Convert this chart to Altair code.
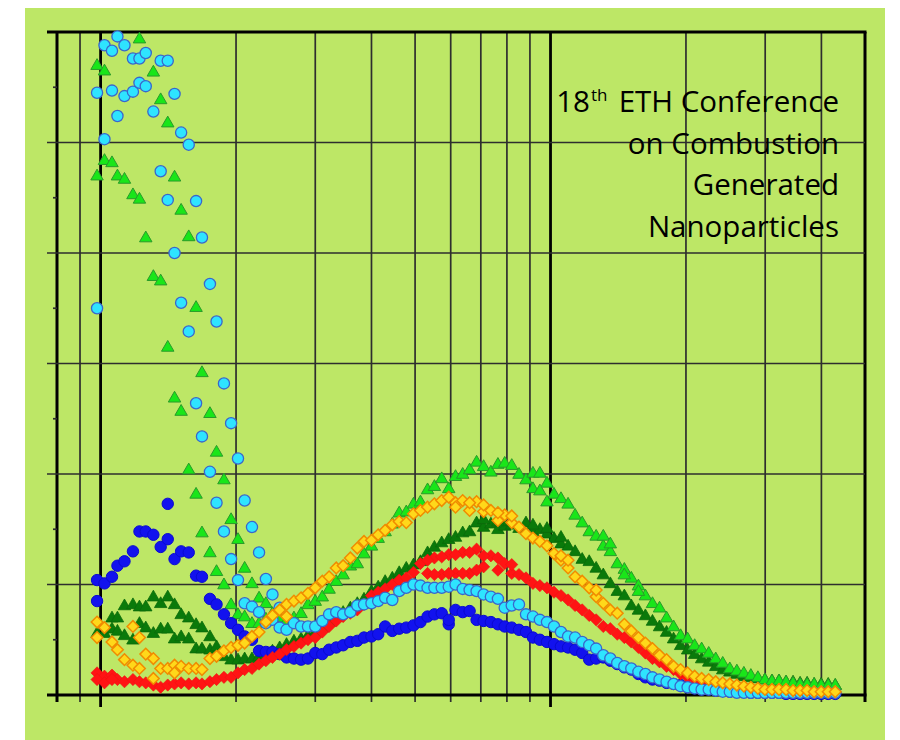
import altair as alt
import pandas as pd

# ---------------- data ----------------
# particle diameter channels (nm), 64 channels per decade
diam = [9.82, 10.2, 10.6, 10.9, 11.3, 11.8, 12.2, 12.6, 13.1, 13.6,
        14.1, 14.6, 15.1, 15.7, 16.3, 16.8, 17.5, 18.1, 18.8, 19.5,
        20.2, 20.9, 21.7, 22.5, 23.3, 24.1, 25.0, 25.9, 26.9, 27.9,
        28.9, 30.0, 31.1, 32.2, 33.4, 34.6, 35.9, 37.2, 38.5, 40.0,
        41.4, 42.9, 44.5, 46.1, 47.8, 49.6, 51.4, 53.3, 55.2, 57.3,
        59.4, 61.5, 63.8, 66.1, 68.5, 71.0, 73.7, 76.4, 79.1, 82.0,
        85.1, 88.2, 91.4, 94.7, 98.2, 101.8, 105.5, 109.4, 113.4, 117.6,
        121.9, 126.3, 131.0, 135.8, 140.7, 145.9, 151.2, 156.8, 162.5, 168.5,
        174.7, 181.1, 187.7, 194.6, 201.7, 209.1, 216.7, 224.7, 232.9, 241.4,
        250.3, 259.5, 269.0, 278.8, 289.0, 299.6, 310.6, 322.0, 333.8, 346.0,
        358.7, 371.8, 385.4, 399.5, 414.2, 429.4]

blue = [1.04, 1.01, 1.07, 1.17, 1.21, 1.30, 1.48, 1.48, 1.45, 1.34,
        1.41, 1.23, 1.30, 1.29, 1.08, 1.07, 0.87, 0.82, 0.73, 0.65,
        0.59, 0.53, 0.50, 0.40, 0.39, 0.39, 0.37, 0.34, 0.33, 0.32,
        0.33, 0.38, 0.37, 0.41, 0.43, 0.45, 0.48, 0.49, 0.52, 0.53,
        0.55, 0.62, 0.58, 0.60, 0.61, 0.63, 0.66, 0.71, 0.73, 0.74,
        0.64, 0.77, 0.75, 0.76, 0.68, 0.67, 0.66, 0.64, 0.62, 0.61,
        0.59, 0.57, 0.52, 0.50, 0.48, 0.46, 0.44, 0.43, 0.41, 0.38,
        0.32, 0.33, 0.34, 0.31, 0.28, 0.25, 0.23, 0.19, 0.16, 0.14,
        0.13, 0.11, 0.10, 0.09, 0.07, 0.06, 0.05, 0.05, 0.04, 0.04,
        0.03, 0.03, 0.03, 0.02, 0.02, 0.02, 0.02, 0.02, 0.01, 0.01,
        0.01, 0.01, 0.01, 0.01, 0.01, 0.01]
blue_extra_idx = [0, 10, 50]
blue_extra_val = [0.85, 1.73, 0.68]

cyan = [3.50, 5.03, 5.47, 5.24, 5.42, 5.46, 5.54, 5.51, 5.28, 4.74,
        4.48, 4.00, 3.55, 3.29, 2.64, 2.34, 2.02, 1.74, 1.48, 1.23,
        1.04, 0.83, 0.80, 0.75, 0.65, 0.68, 0.61, 0.59, 0.65, 0.62,
        0.62, 0.62, 0.67, 0.73, 0.75, 0.73, 0.75, 0.81, 0.82, 0.83,
        0.85, 0.88, 0.86, 0.94, 0.97, 1.00, 0.99, 0.97, 0.97, 0.97,
        0.98, 1.00, 0.96, 0.95, 0.94, 0.91, 0.89, 0.87, 0.79, 0.81,
        0.82, 0.73, 0.71, 0.68, 0.66, 0.62, 0.57, 0.53, 0.52, 0.48,
        0.45, 0.42, 0.36, 0.33, 0.29, 0.26, 0.24, 0.21, 0.19, 0.16,
        0.14, 0.12, 0.10, 0.08, 0.07, 0.06, 0.05, 0.05, 0.04, 0.03,
        0.03, 0.02, 0.02, 0.02, 0.02, 0.02, 0.02, 0.02, 0.02, 0.02,
        0.02, 0.02, 0.02, 0.02, 0.02, 0.02]
cyan_extra_idx = [0, 1, 2, 3, 4, 5, 6, 7, 9, 10, 11, 12, 13, 14, 15, 16, 17,
                  18, 19, 20, 21, 22, 23, 24, 25, 26]
cyan_extra_val = [5.45, 5.88, 5.83, 5.96, 5.88, 5.76, 5.76, 5.81, 5.74, 5.74,
                  5.44, 5.09, 4.98, 4.47, 4.14, 3.72, 3.38, 2.82, 2.46, 2.14,
                  1.76, 1.52, 1.29, 1.05, 0.91, 0.79]

ltgreen = [4.71, 4.85, 4.83, 4.71, 4.68, 4.54, 4.50, 4.15, 3.80, 3.76,
           3.16, 2.70, 2.58, 2.05, 1.83, 1.48, 1.30, 1.13, 1.01, 0.83,
           0.74, 0.72, 0.66, 0.66, 0.70, 0.75, 0.71, 0.68, 0.71, 0.75,
           0.83, 0.86, 0.90, 0.97, 1.04, 1.10, 1.18, 1.20, 1.29, 1.36,
           1.43, 1.49, 1.56, 1.66, 1.67, 1.74, 1.76, 1.87, 1.90, 1.97,
           1.88, 1.99, 2.01, 2.05, 2.12, 2.08, 2.03, 2.10, 2.11, 2.09,
           2.01, 1.96, 2.02, 2.02, 1.93, 1.83, 1.79, 1.74, 1.64, 1.57,
           1.49, 1.45, 1.36, 1.31, 1.20, 1.15, 1.07, 1.00, 0.91, 0.84,
           0.80, 0.71, 0.63, 0.55, 0.52, 0.46, 0.43, 0.39, 0.34, 0.30,
           0.25, 0.23, 0.21, 0.19, 0.17, 0.15, 0.14, 0.14, 0.13, 0.12,
           0.11, 0.11, 0.11, 0.10, 0.10, 0.10]
ltgreen_extra_idx = [0, 1, 6, 8, 9, 10, 11, 12, 13, 14, 15, 16, 17, 18, 19, 20,
                     21, 22, 23, 24, 62, 63, 64, 72, 73, 75, 77]
ltgreen_extra_val = [5.71, 5.66, 5.95, 5.65, 5.40, 5.19, 4.70, 4.40, 4.16, 3.52,
                     2.93, 2.56, 2.21, 1.96, 1.60, 1.42, 1.16, 1.02, 0.89, 0.84,
                     1.88, 1.86, 1.76, 1.45, 1.38, 1.10, 0.95]

dkgreen = [0.57, 0.57, 0.61, 0.59, 0.55, 0.51, 0.66, 0.62, 0.57, 0.61,
           0.61, 0.52, 0.54, 0.52, 0.43, 0.43, 0.42, 0.40, 0.36, 0.33,
           0.33, 0.34, 0.34, 0.36, 0.38, 0.41, 0.44, 0.47, 0.50, 0.52,
           0.55, 0.58, 0.62, 0.67, 0.72, 0.76, 0.80, 0.84, 0.88, 0.95,
           0.99, 1.04, 1.07, 1.12, 1.16, 1.19, 1.22, 1.30, 1.35, 1.39,
           1.42, 1.44, 1.48, 1.49, 1.57, 1.53, 1.56, 1.51, 1.54, 1.55,
           1.52, 1.57, 1.49, 1.51, 1.47, 1.43, 1.38, 1.36, 1.31, 1.24,
           1.22, 1.16, 1.10, 1.02, 0.95, 0.91, 0.82, 0.78, 0.73, 0.68,
           0.63, 0.58, 0.52, 0.46, 0.42, 0.38, 0.34, 0.31, 0.27, 0.24,
           0.22, 0.20, 0.18, 0.17, 0.16, 0.15, 0.14, 0.14, 0.13, 0.13,
           0.12, 0.12, 0.11, 0.11, 0.11, 0.10]
dkgreen_extra_idx = [2, 3, 4, 5, 6, 7, 8, 9, 10, 11, 12, 13, 14, 15, 16, 17,
                     55, 57, 59, 62, 64, 66]
dkgreen_extra_val = [0.71, 0.71, 0.82, 0.83, 0.81, 0.81, 0.90, 0.84, 0.90, 0.83,
                     0.74, 0.71, 0.65, 0.62, 0.54, 0.45, 1.60, 1.58, 1.58, 1.55,
                     1.52, 1.44]

red = [0.20, 0.17, 0.18, 0.14, 0.12, 0.14, 0.12, 0.11, 0.09, 0.07,
       0.09, 0.10, 0.11, 0.10, 0.11, 0.10, 0.12, 0.14, 0.16, 0.16,
       0.20, 0.23, 0.24, 0.28, 0.31, 0.34, 0.37, 0.41, 0.44, 0.47,
       0.50, 0.52, 0.57, 0.62, 0.67, 0.71, 0.74, 0.77, 0.82, 0.90,
       0.93, 0.96, 1.00, 1.04, 1.06, 1.11, 1.19, 1.10, 1.24, 1.09,
       1.27, 1.10, 1.29, 1.10, 1.32, 1.16, 1.26, 1.13, 1.19, 1.10,
       1.09, 1.06, 1.01, 0.99, 0.97, 0.93, 0.90, 0.86, 0.81, 0.77,
       0.72, 0.68, 0.62, 0.60, 0.55, 0.52, 0.48, 0.43, 0.38, 0.33,
       0.30, 0.26, 0.23, 0.19, 0.16, 0.14, 0.12, 0.10, 0.08, 0.07,
       0.06, 0.05, 0.05, 0.04, 0.04, 0.03, 0.03, 0.03, 0.03, 0.02,
       0.02, 0.02, 0.02, 0.02, 0.02, 0.02]
red_extra_idx = [0, 1, 2, 47, 48, 49, 50, 51, 52, 53, 54, 55, 57, 59]
red_extra_val = [0.14, 0.11, 0.14, 1.22, 1.09, 1.25, 1.10, 1.27, 1.10, 1.29,
                 1.13, 1.26, 1.24, 1.18]

yellow = [0.66, 0.61, 0.48, 0.41, 0.32, 0.27, 0.24, 0.37, 0.33, 0.24,
          0.24, 0.27, 0.26, 0.24, 0.24, 0.23, 0.33, 0.35, 0.40, 0.43,
          0.45, 0.47, 0.53, 0.57, 0.66, 0.72, 0.77, 0.82, 0.85, 0.88,
          0.92, 0.97, 1.03, 1.07, 1.15, 1.17, 1.24, 1.33, 1.39, 1.40,
          1.45, 1.49, 1.54, 1.57, 1.56, 1.64, 1.67, 1.70, 1.73, 1.76,
          1.79, 1.74, 1.76, 1.67, 1.75, 1.66, 1.67, 1.58, 1.63, 1.56,
          1.52, 1.46, 1.42, 1.39, 1.35, 1.28, 1.22, 1.15, 1.07, 1.03,
          0.97, 0.89, 0.83, 0.77, 0.74, 0.64, 0.58, 0.52, 0.47, 0.42,
          0.36, 0.32, 0.26, 0.23, 0.20, 0.17, 0.15, 0.14, 0.12, 0.11,
          0.10, 0.09, 0.08, 0.07, 0.06, 0.05, 0.05, 0.05, 0.05, 0.04,
          0.04, 0.04, 0.03, 0.03, 0.03, 0.03]
yellow_extra_idx = [0, 5, 6, 8, 11, 27, 51, 53, 55, 57, 59, 66, 67, 71]
yellow_extra_val = [0.52, 0.62, 0.52, 0.15, 0.20, 0.71, 1.70, 1.74, 1.72, 1.65,
                    1.62, 1.26, 1.22, 0.95]

# grid / frame values
x_domain = [8, 500]
y_domain = [0, 6]
x_grid_thin = [9, 20, 30, 40, 50, 60, 70, 80, 90, 200, 300, 400]
x_grid_thick = [10, 100]
x_frame = [8, 500]
y_grid = [1, 2, 3, 4, 5]
y_frame = [0, 6]
y_minor = [0.5, 1.5, 2.5, 3.5, 4.5, 5.5]

title_lines = ["ETH Conference", "on Combustion", "Generated", "Nanoparticles"]
title_num = "18"
title_sup = "th"

for s in (blue, cyan, ltgreen, dkgreen, red, yellow):
    assert len(s) == len(diam), len(s)

# ---------------- chart ----------------
W, H = 808, 663
BG = "#bde766"
GRID = "#2e2e2e"
FONT = "Open Sans"

xs = alt.Scale(type="log", domain=x_domain, nice=False)
ys = alt.Scale(type="linear", domain=y_domain, nice=False, zero=False)


def series_frame(main, extra_idx, extra_val):
    d = list(diam) + [diam[i] for i in extra_idx]
    v = list(main) + list(extra_val)
    return pd.DataFrame({"d": d, "v": v})


def pts(df, shape, fill, stroke, size, sw):
    return alt.Chart(df).mark_point(
        shape=shape, filled=True, fill=fill, stroke=stroke, strokeWidth=sw,
        size=size, opacity=1, fillOpacity=1, strokeOpacity=1
    ).encode(
        x=alt.X("d:Q", scale=xs, axis=None),
        y=alt.Y("v:Q", scale=ys, axis=None),
    )


def vrules(vals, width, color, y2):
    return alt.Chart(pd.DataFrame({"g": vals})).mark_rule(
        color=color, strokeWidth=width
    ).encode(
        x=alt.X("g:Q", scale=xs, axis=None),
        y=alt.value(0), y2=alt.value(y2),
    )


def hrules(vals, width, color, x1, x2):
    return alt.Chart(pd.DataFrame({"g": vals})).mark_rule(
        color=color, strokeWidth=width
    ).encode(
        y=alt.Y("g:Q", scale=ys, axis=None),
        x=alt.value(x1), x2=alt.value(x2),
    )


def txt(s, x, y, size, align):
    return alt.Chart(alt.Data(values=[{"t": s}])).mark_text(
        text=s, font=FONT, fontSize=size, color="black",
        align=align, baseline="alphabetic"
    ).encode(x=alt.value(x), y=alt.value(y))


bg = alt.Chart(alt.Data(values=[{"a": 1}])).mark_rect(color=BG).encode(
    x=alt.value(-32), x2=alt.value(W + 20), y=alt.value(-40), y2=alt.value(H + 80)
)

layers = [
    bg,
    vrules(x_grid_thin, 1.7, GRID, H + 7),
    vrules(x_grid_thick, 2.8, "black", H + 12),
    vrules(x_frame, 3, "black", H + 7),
    hrules(y_grid, 1.7, GRID, -10, W),
    hrules(y_frame, 3, "black", -10, W + 1.5),
    hrules(y_minor, 1.7, GRID, -4, 0),
    pts(series_frame(dkgreen, dkgreen_extra_idx, dkgreen_extra_val),
        "triangle-up", "#0a7a0a", "#0a6a0a", 155, 0.8),
    pts(series_frame(ltgreen, ltgreen_extra_idx, ltgreen_extra_val),
        "triangle-up", "#19e619", "#2a9a2a", 155, 1.0),
    pts(series_frame(blue, blue_extra_idx, blue_extra_val),
        "circle", "#1212ee", "#0a0ad0", 130, 1.0),
    pts(series_frame(red, red_extra_idx, red_extra_val),
        "diamond", "#ff1414", "#f01010", 150, 0.6),
    pts(series_frame(cyan, cyan_extra_idx, cyan_extra_val),
        "circle", "#2ee4ff", "#3a66cc", 125, 1.3),
    pts(series_frame(yellow, yellow_extra_idx, yellow_extra_val),
        "diamond", "#ffd81a", "#f08c00", 135, 1.5),
]

line_base = [80, 121.5, 163, 204.5]
for s, yb in zip(title_lines, line_base):
    layers.append(txt(s, 782, yb, 29.5, "right"))
layers.append(txt(title_num, 533, line_base[0], 29.5, "right"))
layers.append(txt(title_sup, 534, line_base[0] - 11, 17, "left"))

chart = alt.layer(*layers).properties(
    width=W, height=H,
    autosize=alt.AutoSizeParams(type="none"),
    padding={"left": 49, "top": 24, "right": 25, "bottom": 45},
).configure(background="white").configure_view(strokeWidth=0)

chart.save("out.html", embed_options={"renderer": "svg", "actions": False})
